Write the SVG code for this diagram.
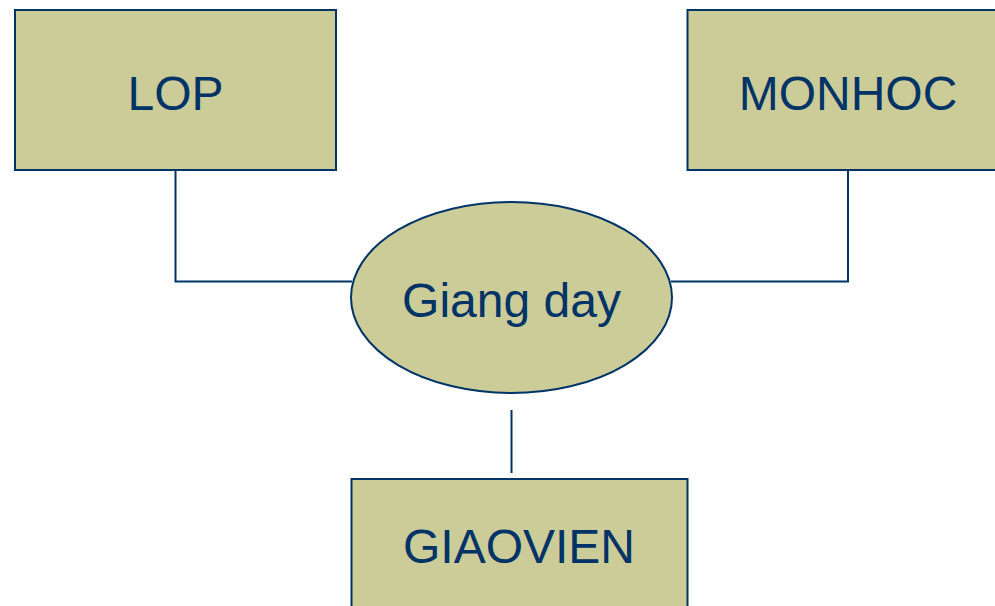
<svg xmlns="http://www.w3.org/2000/svg" width="995" height="606" viewBox="0 0 995 606">
<style>
.box{fill:#CCCC99;stroke:#003366;stroke-width:2}
.lbl{font-family:"Liberation Sans",Arial,sans-serif;font-size:48px;fill:#003366;text-anchor:middle}
.con{fill:none;stroke:#003366;stroke-width:2}
</style>
<rect width="995" height="606" fill="#FFFFFF"/>
<g id="connectors">
<polyline class="con" points="175.5,170 175.5,281.5 352,281.5"/>
<polyline class="con" points="848,170 848,281.5 671,281.5"/>
<line class="con" x1="511.5" y1="410" x2="511.5" y2="473"/>
</g>
<g id="lop">
<rect class="box" x="15" y="10" width="321" height="160"/>
<text class="lbl" x="175.5" y="110">LOP</text>
</g>
<g id="monhoc">
<rect class="box" x="687.5" y="10" width="321" height="160"/>
<text class="lbl" x="848" y="110">MONHOC</text>
</g>
<g id="giangday">
<ellipse class="box" cx="511.5" cy="297.5" rx="160.5" ry="95.5"/>
<text class="lbl" x="511.5" y="317">Giang day</text>
</g>
<g id="giaovien">
<rect class="box" x="351.5" y="479" width="336" height="140"/>
<text class="lbl" x="519" y="563">GIAOVIEN</text>
</g>
</svg>
